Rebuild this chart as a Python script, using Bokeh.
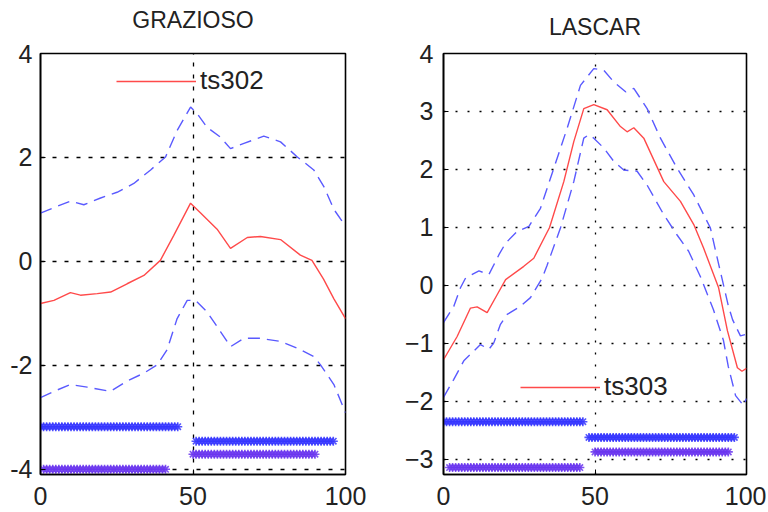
import numpy as np
from bokeh.plotting import figure
from bokeh.models import Range1d, FixedTicker, Legend, LegendItem, Title
from bokeh.layouts import row
from bokeh.embed import file_html
from bokeh.resources import INLINE

# ---------------- data: GRAZIOSO ----------------
g_title = "GRAZIOSO"
g_mid_x = [0, 4.4, 9.8, 13.1, 18.6, 23, 28.4, 33.9, 39.3, 43.7, 49.2, 52.5, 57.9, 62.3, 67.8, 72.1, 78.7, 85.2, 89, 92.8, 96.2, 100]
g_mid_y = [-0.81, -0.75, -0.60, -0.65, -0.62, -0.59, -0.43, -0.27, 0.02, 0.5, 1.12, 0.93, 0.62, 0.25, 0.46, 0.48, 0.42, 0.12, 0.02, -0.34, -0.72, -1.10]
g_up_x = [0, 5.5, 9.8, 14.2, 19.7, 25.1, 30.6, 36.1, 41, 44.8, 49.2, 51.4, 54.6, 59, 62.3, 66.7, 73.2, 78.7, 84.2, 89.6, 92.9, 96.2, 100]
g_up_y = [0.93, 1.06, 1.16, 1.09, 1.22, 1.33, 1.50, 1.76, 2.01, 2.52, 2.97, 2.84, 2.58, 2.39, 2.17, 2.27, 2.41, 2.30, 2.01, 1.76, 1.44, 1.0, 0.68]
g_lo_x = [0, 4.4, 9.8, 15.3, 23, 28.4, 33.9, 38.3, 41.5, 44.8, 48.1, 50.8, 54.6, 59, 62.3, 66.7, 72.1, 78.7, 84.2, 89.6, 91.8, 96.2, 100]
g_lo_y = [-2.62, -2.50, -2.37, -2.42, -2.50, -2.30, -2.15, -1.99, -1.70, -1.10, -0.75, -0.75, -0.97, -1.35, -1.64, -1.48, -1.48, -1.54, -1.67, -1.83, -1.99, -2.37, -2.91]
g_bar_y = [-3.18, -4.0, -3.46, -3.71]
g_bar_start = [0, 1, 51, 50]
g_bar_end = [45, 41, 96, 90]
g_yticks = [-4, -2, 0, 2, 4]
g_ytick_labels = {-4: "-4", -2: "-2", 0: "0", 2: "2", 4: "4"}

# ---------------- data: LASCAR ----------------
l_title = "LASCAR"
l_mid_x = [0, 4.5, 8.9, 11.1, 14.4, 17.7, 20.5, 26.5, 29.8, 35, 39.7, 43, 46.3, 49.6, 54, 58.4, 60.6, 62.8, 66.1, 72.7, 78.2, 82.6, 85.8, 90.8, 93.7, 97, 98.5, 100]
l_mid_y = [-1.28, -0.88, -0.39, -0.37, -0.47, -0.16, 0.10, 0.33, 0.47, 1.0, 1.79, 2.48, 3.05, 3.12, 3.03, 2.74, 2.65, 2.72, 2.54, 1.79, 1.45, 1.05, 0.65, -0.04, -0.78, -1.42, -1.48, -1.43]
l_up_x = [0, 3.4, 5.6, 7.3, 11.7, 15, 18.3, 20.5, 24.3, 28.2, 32, 36.4, 40.8, 45.2, 49.6, 52.9, 56.2, 60.1, 62.8, 67.2, 71.6, 77.1, 82.6, 88.1, 90, 92, 94, 95.4, 98, 100]
l_up_y = [-0.64, -0.36, -0.04, 0.13, 0.25, 0.19, 0.53, 0.73, 0.93, 1.02, 1.33, 2.02, 2.71, 3.45, 3.74, 3.71, 3.51, 3.34, 3.40, 3.05, 2.54, 2.02, 1.56, 0.99, 0.55, 0.1, -0.35, -0.59, -0.87, -0.84]
l_lo_x = [0, 3.4, 6.7, 12.2, 15, 16.6, 18.8, 21, 25.4, 28.7, 32.6, 34.2, 38.6, 43, 46.3, 48, 49.6, 52.9, 56.2, 59.5, 63.9, 67.2, 72.7, 77.1, 80.9, 84.8, 89.1, 92.4, 94, 96.4, 99, 100]
l_lo_y = [-1.93, -1.62, -1.30, -1.02, -1.10, -0.99, -0.67, -0.50, -0.36, -0.21, 0.13, 0.35, 0.99, 1.79, 2.54, 2.6, 2.54, 2.37, 2.14, 1.99, 1.97, 1.73, 1.22, 0.87, 0.59, 0.15, -0.42, -0.95, -1.4, -1.9, -2.07, -1.95]
l_bar_y = [-2.35, -3.14, -2.62, -2.87]
l_bar_start = [0, 2, 48, 50]
l_bar_end = [46, 45, 96, 94]
l_yticks = [-3, -2, -1, 0, 1, 2, 3, 4]
l_ytick_labels = {-3: "\u22123", -2: "\u22122", -1: "\u22121", 0: "0", 1: "1", 2: "2", 3: "3", 4: "4"}

x_ticks = [0, 50, 100]
bar_colors = ["#3535ff", "#6a35ee", "#3535ff", "#6a35ee"]

FONT = "Liberation Sans"
RED = "#ff4a4a"
BLUE_D = "#5a5aff"


def make_panel(title, mid_x, mid_y, up_x, up_y, lo_x, lo_y, bar_y, bar_s, bar_e,
               yrange, yticks, ylabels, grid_y, label, width, height, borders,
               gap_px, legend_loc, grid_dash, ystandoff, xstandoff):
    p = figure(width=width, height=height, output_backend="svg", toolbar_location=None,
               title=None,
               x_range=Range1d(0, 100), y_range=Range1d(*yrange),
               min_border_left=borders[0], min_border_right=borders[1],
               min_border_top=borders[2], min_border_bottom=borders[3])
    # empty spacer between the frame and the title, then the title itself
    p.add_layout(Title(text=" ", text_font=FONT, text_font_size=f"{gap_px}px", standoff=0), "above")
    p.add_layout(Title(text=title, align="center", text_font=FONT, text_font_size="23px",
                       text_font_style="normal", text_color="#222222", standoff=0), "above")
    p.background_fill_color = "white"
    p.border_fill_color = "white"
    p.outline_line_color = "black"
    p.outline_line_width = 1.6

    for ax in (p.xaxis[0], p.yaxis[0]):
        ax.axis_line_color = "black"
        ax.axis_line_width = 1.6
        ax.major_tick_in = 5
        ax.major_tick_out = 0
        ax.minor_tick_line_color = None
        ax.major_tick_line_color = "black"
        ax.major_label_text_font = FONT
        ax.major_label_text_font_size = "25px"
        ax.major_label_text_color = "#222222"
    p.xaxis.ticker = FixedTicker(ticks=x_ticks)
    p.xaxis.major_label_standoff = xstandoff
    p.xaxis.major_label_text_line_height = 1.0
    p.yaxis.ticker = FixedTicker(ticks=yticks)
    p.yaxis.major_label_standoff = ystandoff
    p.yaxis.major_label_overrides = ylabels

    p.xgrid.ticker = FixedTicker(ticks=[50])
    p.ygrid.ticker = FixedTicker(ticks=grid_y)
    for g in (p.xgrid[0], p.ygrid[0]):
        g.grid_line_color = "black"
        g.grid_line_dash = grid_dash
        g.grid_line_width = 1.3

    # bands of star markers
    for yv, s, e, c in zip(bar_y, bar_s, bar_e, bar_colors):
        xs = np.arange(s, e + 1)
        p.scatter(xs, np.full(len(xs), yv), marker="asterisk", size=9,
                  line_color=c, line_width=1.6, line_alpha=0.85)

    p.line(up_x, up_y, line_color=BLUE_D, line_width=1.4, line_dash="12 7")
    p.line(lo_x, lo_y, line_color=BLUE_D, line_width=1.4, line_dash="12 7")
    r = p.line(mid_x, mid_y, line_color=RED, line_width=1.4)

    leg = Legend(items=[LegendItem(label=label, renderers=[r])], location=legend_loc,
                 border_line_color=None, background_fill_alpha=0,
                 glyph_width=80, glyph_height=30, label_height=30,
                 label_standoff=4, padding=0, margin=0,
                 label_text_font=FONT, label_text_font_size="26px",
                 label_text_color="#222222")
    p.add_layout(leg)
    return p


p1 = make_panel(g_title, g_mid_x, g_mid_y, g_up_x, g_up_y, g_lo_x, g_lo_y,
                g_bar_y, g_bar_start, g_bar_end, (-4.1, 4), g_yticks, g_ytick_labels,
                [-4, -2, 0, 2], "ts302", 395, 511, (40, 50, 53, 37), 17, (76, 378), "4 8", 8, 12)
p2 = make_panel(l_title, l_mid_x, l_mid_y, l_up_x, l_up_y, l_lo_x, l_lo_y,
                l_bar_y, l_bar_start, l_bar_end, (-3.26, 4), l_yticks, l_ytick_labels,
                [-3, -2, -1, 0, 1, 2, 3, 4], "ts303", 371, 511, (48, 20, 53, 37), 11, (77, 72), "2 10", 10, 12)

layout = row(p1, p2)
open("out.html", "w").write(file_html(layout, INLINE))
